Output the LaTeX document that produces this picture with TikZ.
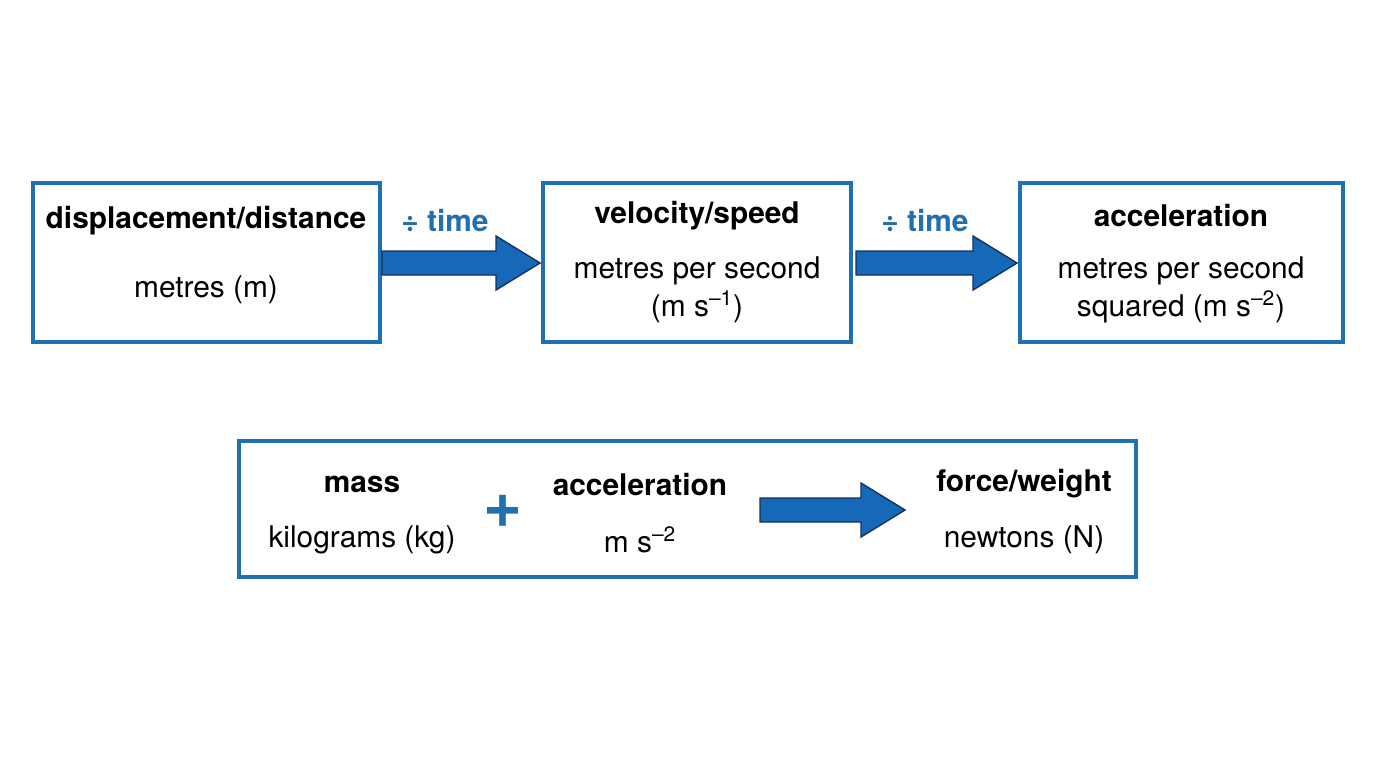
\documentclass[tikz,border=0pt]{standalone}
\usepackage{fontspec}
\setmainfont{TeX Gyre Heros}
\usetikzlibrary{positioning,calc}
\definecolor{boxblue}{RGB}{30,112,176}
\definecolor{arrowblue}{RGB}{22,104,184}
\definecolor{arrowedge}{RGB}{20,50,90}

\newcommand{\blockarrow}[3]{% start, end, y
  \draw[arrowedge, fill=arrowblue, line width=0.8pt]
    (#1,#3-12) -- (#2-44,#3-12) -- (#2-44,#3-27) -- (#2,#3) -- (#2-44,#3+27)
    -- (#2-44,#3+12) -- (#1,#3+12) -- cycle;
}

\begin{document}
\begin{tikzpicture}[
    x=0.02cm, y=-0.02cm,
    unitbox/.style={draw=boxblue, line width=2pt, rectangle},
    txt/.style={font=\fontsize{17}{20}\selectfont, text=black},
    head/.style={txt, font=\fontsize{17}{20}\selectfont\bfseries},
    op/.style={font=\fontsize{17}{20}\selectfont\bfseries, text=boxblue}
]
\useasboundingbox (0,0) rectangle (1376,768);

% Top row boxes
\draw[unitbox] (33,183) rectangle (380,342);
\draw[unitbox] (543,183) rectangle (851,342);
\draw[unitbox] (1020,183) rectangle (1343,342);

\node[head] (disp) at (206,221) {displacement/distance};
\node[txt]  (dispu) at (206,290) {metres (m)};
\node[head] (vel) at (697,216) {velocity/speed};
\node[txt]  (velu) at (697,271) {metres per second};
\node[txt]  (velv) at (697,307) {(m s\textsuperscript{–1})};
\node[head] (acc) at (1181,216) {acceleration};
\node[txt]  (accu) at (1181,271) {metres per second};
\node[txt]  (accv) at (1181,307) {squared (m s\textsuperscript{–2})};

% Arrows between boxes
\blockarrow{382}{540}{263}
\blockarrow{856}{1017}{263}
\node[op] (div1) at (445,221) {÷ time};
\node[op] (div2) at (925,221) {÷ time};

% Bottom box
\draw[unitbox] (239,441) rectangle (1136,577);
\node[head] (mass) at (362,484) {mass};
\node[txt]  (massu) at (362,540) {kilograms (kg)};
\node[font=\fontsize{38}{38}\selectfont\bfseries, text=boxblue] (plus) at (503,511) {+};
\node[head] (acc2) at (640,484) {acceleration};
\node[txt]  (acc2u) at (640,540) {m s\textsuperscript{–2}};
\blockarrow{760}{905}{510}
\node[head] (force) at (1024,484) {force/weight};
\node[txt]  (forceu) at (1024,540) {newtons (N)};

\end{tikzpicture}
\end{document}
